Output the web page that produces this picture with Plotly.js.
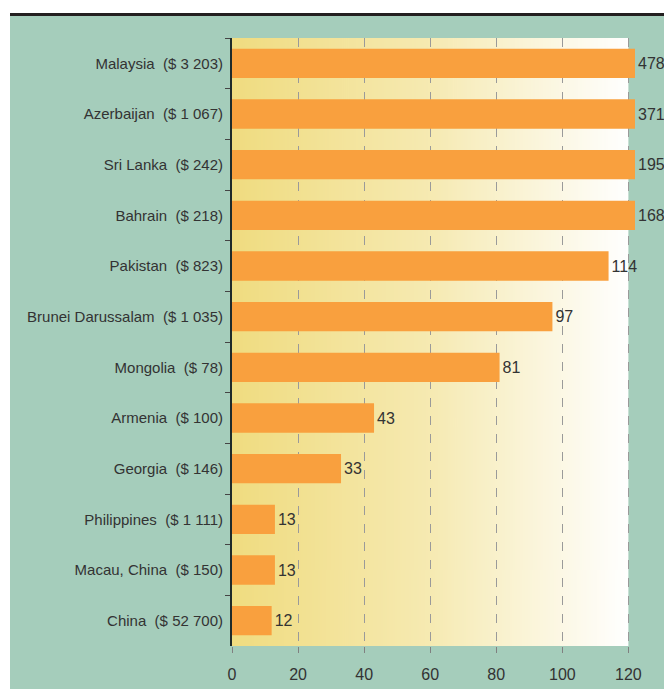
<!DOCTYPE html>
<html>
<head>
<meta charset="utf-8">
<script src="https://cdn.plot.ly/plotly-3.0.1.min.js"></script>
<style>
  html, body { margin: 0; padding: 0; background: #ffffff; width: 664px; height: 689px; overflow: hidden; }
  #topline { position: absolute; left: 10px; top: 13px; width: 654px; height: 3px; background: #231f20; }
  #chart { position: absolute; left: 10px; top: 16px; width: 654px; height: 673px; }
</style>
</head>
<body>
<div id="topline"></div>
<div id="chart"></div>
<script>
const countries = ["Malaysia", "Azerbaijan", "Sri Lanka", "Bahrain", "Pakistan", "Brunei Darussalam",
                   "Mongolia", "Armenia", "Georgia", "Philippines", "Macau, China", "China"];
const amounts = ["$ 3 203", "$ 1 067", "$ 242", "$ 218", "$ 823", "$ 1 035",
                 "$ 78", "$ 100", "$ 146", "$ 1 111", "$ 150", "$ 52 700"];
const values = [478, 371, 195, 168, 114, 97, 81, 43, 33, 13, 13, 12];
const xTicks = [0, 20, 40, 60, 80, 100, 120];

const AXIS_MAX = 120;
const BAR_CAP = 122; // bars beyond the axis are cut just past the frame

const labels = countries.map((c, i) => c + "  (" + amounts[i] + ")");
const shown = values.map(v => Math.min(v, BAR_CAP));

// gradient background image for the plotting area
const cv = document.createElement("canvas");
cv.width = 400; cv.height = 4;
const ctx = cv.getContext("2d");
const g = ctx.createLinearGradient(0, 0, 400, 0);
g.addColorStop(0, "#f0dc80");
g.addColorStop(0.5, "#f6eab2");
g.addColorStop(1, "#ffffff");
ctx.fillStyle = g;
ctx.fillRect(0, 0, 400, 4);
const gradURL = cv.toDataURL("image/png");

const FONT = "'Liberation Sans Narrow', 'Arial Narrow', 'Liberation Sans', Arial, sans-serif";

const trace = {
  type: "bar",
  orientation: "h",
  y: labels,
  x: shown,
  text: values.map(String),
  textposition: "outside",
  cliponaxis: false,
  constraintext: "none",
  textfont: { family: FONT, size: 16, color: "#333333" },
  marker: { color: "#f9a03e", line: { width: 0 } },
  hoverinfo: "none"
};

const layout = {
  width: 654,
  height: 673,
  margin: { l: 222, r: 29, t: 22, b: 43, pad: 0 },
  paper_bgcolor: "#a5cdbb",
  plot_bgcolor: "rgba(0,0,0,0)",
  showlegend: false,
  bargap: 0.42,
  font: { family: FONT, size: 15, color: "#333333" },
  images: [{
    source: gradURL, xref: "x", yref: "paper",
    x: 0, y: 1, sizex: AXIS_MAX, sizey: 1, sizing: "stretch",
    xanchor: "left", yanchor: "top", layer: "below"
  }],
  xaxis: {
    range: [0, BAR_CAP],
    tickvals: xTicks,
    ticktext: xTicks.map(String),
    showgrid: true,
    gridcolor: "#9a9a9a",
    griddash: "dash",
    gridwidth: 1,
    zeroline: false,
    showline: false,
    ticks: "outside",
    ticklen: 6,
    tickcolor: "#808080",
    ticklabelstandoff: 8,
    tickfont: { family: FONT, size: 16, color: "#333333" },
    fixedrange: true
  },
  yaxis: {
    type: "category",
    autorange: "reversed",
    showline: true,
    linecolor: "#1f2a2a",
    linewidth: 2,
    ticks: "outside",
    tickson: "boundaries",
    ticklen: 5,
    tickcolor: "#444444",
    ticklabelstandoff: 4,
    showgrid: false,
    zeroline: false,
    tickfont: { family: FONT, size: 15, color: "#333333" },
    fixedrange: true
  }
};

Plotly.newPlot("chart", [trace], layout, { displayModeBar: false, staticPlot: true });
</script>
</body>
</html>
